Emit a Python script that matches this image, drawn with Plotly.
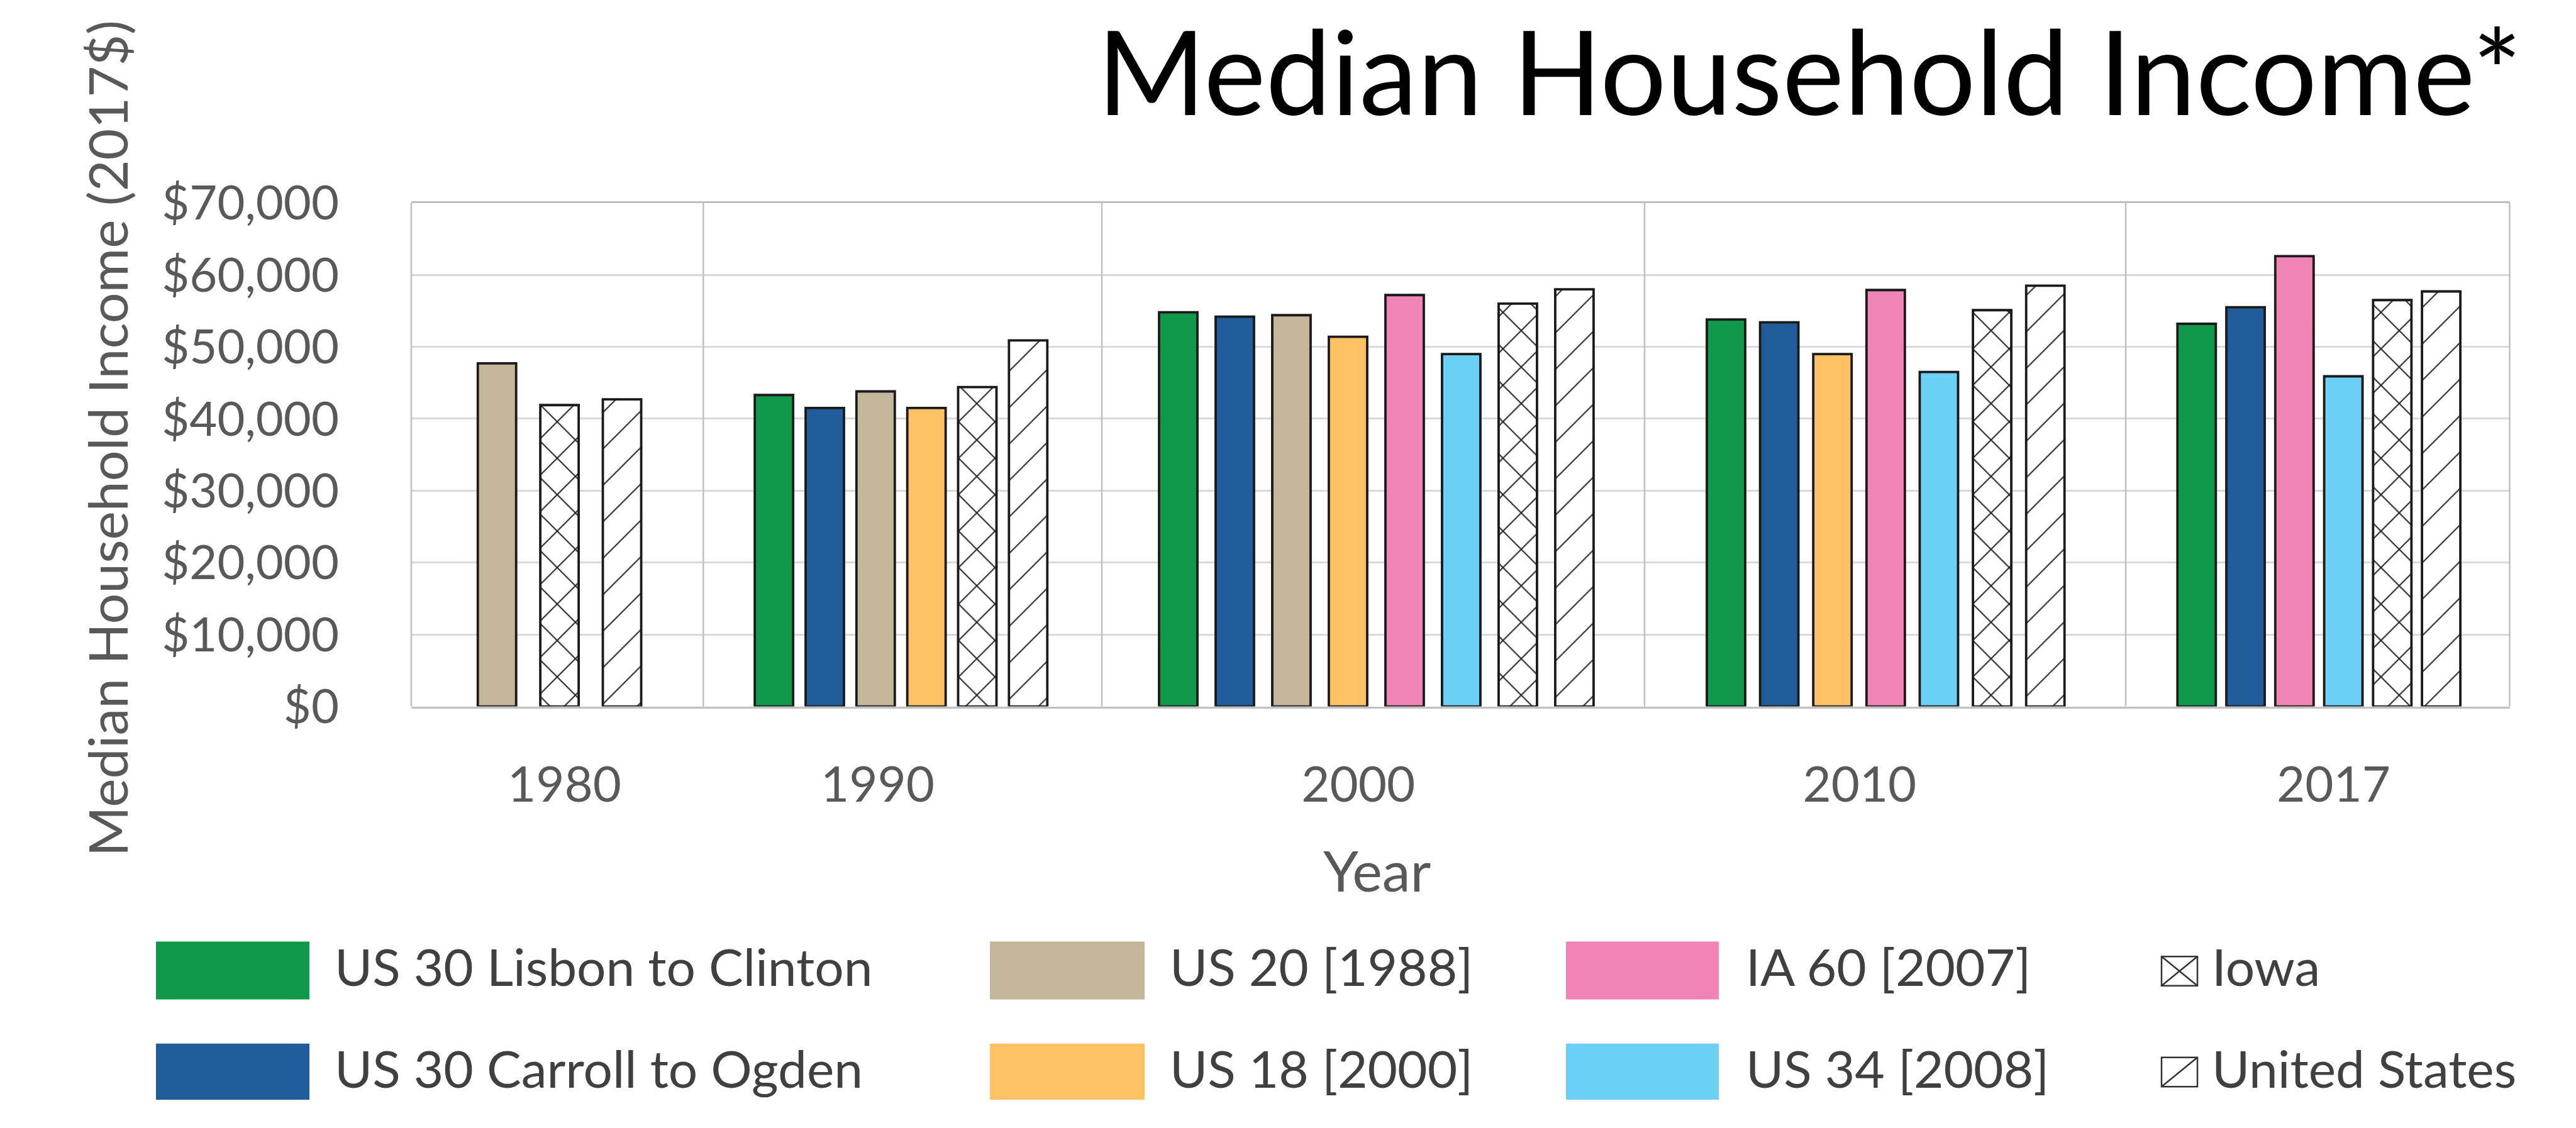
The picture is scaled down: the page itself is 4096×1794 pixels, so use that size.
import plotly.graph_objects as go

# ---- data -------------------------------------------------------------
YEARS = ["1980", "1990", "2000", "2010", "2017"]
SERIES = [
    "US 30 Lisbon to Clinton",
    "US 30 Carroll to Ogden",
    "US 20 [1988]",
    "US 18 [2000]",
    "IA 60 [2007]",
    "US 34 [2008]",
    "Iowa",
    "United States",
]
# median household income, 2017 dollars (None = no bar for that year)
us30_lisbon = [None, 43300, 54800, 53800, 53200]
us30_carroll = [None, 41500, 54200, 53400, 55500]
us20 = [47700, 43800, 54400, None, None]
us18 = [None, 41500, 51400, 49000, None]
ia60 = [None, None, 57200, 57900, 62600]
us34 = [None, None, 49000, 46500, 45900]
iowa = [41900, 44400, 56000, 55100, 56500]
united_states = [42700, 50900, 58000, 58500, 57700]
VALUES = [us30_lisbon, us30_carroll, us20, us18, ia60, us34, iowa, united_states]
Y_TICKS = [0, 10000, 20000, 30000, 40000, 50000, 60000, 70000]
Y_TICK_TEXT = [f"${v:,}" for v in Y_TICKS]

# ---- styling ----------------------------------------------------------
COLORS = ["#10994a", "#1f5c99", "#c4b69a", "#fec163", "#f283b6", "#6ccff6", "white", "white"]
PATTERNS = ["", "", "", "", "", "", "x", "/"]
SOLIDITY = {"x": 0.1, "/": 0.05}
FONT = "Lato"
GRAY_TXT = "#595959"
LEG_TXT = "#404040"
FRAME = "#bfbfbf"
GRID = "#d9d9d9"

W, H = 4096, 1794
PANEL_EDGES = [654.0, 1118.3, 1752.0, 2615.0, 3380.0, 3990.5]   # px, one panel per year
PANEL_RANGES = [(-1.37, 3.30), (-1.39, 6.45), (-1.35, 8.24), (-1.53, 7.51), (-1.45, 6.40)]
YEAR_TICK_POS = [1.08, 2.04, 3.18, 2.51, 2.80]
PLOT_TOP, PLOT_BOTTOM = 289.5, 1133.0
BAR_PX = 61

fig = go.Figure()
layout = {}

for k, year in enumerate(YEARS):
    xname = "x" if k == 0 else f"x{k + 1}"
    r0, r1 = PANEL_RANGES[k]
    unit_px = (PANEL_EDGES[k + 1] - PANEL_EDGES[k]) / (r1 - r0)
    present = [s for s, vals in zip(SERIES, VALUES) if vals[k] is not None]
    for s, vals, col, pat in zip(SERIES, VALUES, COLORS, PATTERNS):
        v = vals[k]
        if v is None:
            continue
        marker = dict(color=col, line=dict(color="#1a1a1a", width=3.8))
        if pat:
            marker["pattern"] = dict(shape=pat, fgcolor="#262626", bgcolor="white",
                                     fgopacity=1, size=41, solidity=SOLIDITY[pat],
                                     fillmode="replace")
        fig.add_trace(go.Bar(
            x=[s], y=[v], xaxis=xname, yaxis="y", name=s,
            width=BAR_PX / unit_px, marker=marker, showlegend=False,
            hovertemplate=f"{year} – {s}<br>$%{{y:,}}<extra></extra>",
        ))
    layout["xaxis" if k == 0 else f"xaxis{k + 1}"] = dict(
        domain=[PANEL_EDGES[k] / W, PANEL_EDGES[k + 1] / W],
        anchor="y", type="category",
        categoryorder="array", categoryarray=present,
        range=[r0, r1],
        tickmode="array", tickvals=[YEAR_TICK_POS[k]], ticktext=[year],
        ticks="", showgrid=False, zeroline=False,
        showline=True, mirror=True, linecolor=FRAME, linewidth=2.5,
        tickfont=dict(family=FONT, size=78, color=GRAY_TXT),
        ticklabelstandoff=55,
        fixedrange=True,
    )

layout["yaxis"] = dict(
    domain=[1 - PLOT_BOTTOM / H, 1 - PLOT_TOP / H],
    anchor="x", range=[0, 70000],
    tickmode="array", tickvals=Y_TICKS, ticktext=Y_TICK_TEXT,
    showgrid=True, gridcolor=GRID, gridwidth=3,
    zeroline=False, showline=False, ticks="",
    tickfont=dict(family=FONT, size=76, color=GRAY_TXT),
    ticklabelstandoff=114,
    fixedrange=True,
)

# panel separators and outer left/right edges
shapes = []
for xe in PANEL_EDGES:
    shapes.append(dict(type="line", xref="paper", yref="y domain",
                       x0=xe / W, x1=xe / W, y0=0, y1=1,
                       line=dict(color=FRAME, width=2.5)))

# ---- legend (drawn as swatches + labels) ------------------------------
annotations = []
SWATCH_X = [(248, 492), (1574, 1820), (2490, 2733)]
TEXT_X = [530, 1858, 2774]
ROW_Y = [(1527, 1624), (1698, 1794 - 2)]
ROW_TEXT_Y = [1567, 1738]
for i, (s, col) in enumerate(zip(SERIES[:6], COLORS[:6])):
    c, r = divmod(i, 2)
    x0, x1 = SWATCH_X[c]
    y0, y1 = ROW_Y[r]
    shapes.append(dict(type="rect", xref="paper", yref="paper",
                       x0=x0 / W, x1=x1 / W, y0=1 - y1 / H, y1=1 - y0 / H,
                       fillcolor=col, line=dict(width=0)))
    annotations.append(dict(text=s, xref="paper", yref="paper",
                            x=TEXT_X[c] / W, y=1 - ROW_TEXT_Y[r] / H,
                            xanchor="left", yanchor="middle", showarrow=False,
                            font=dict(family=FONT, size=82, color=LEG_TXT)))

ICON_X = (3437, 3494)
ICON_Y = [(1552, 1601), (1721, 1770)]
for r, s in enumerate(SERIES[6:]):
    x0, x1 = ICON_X[0] / W, ICON_X[1] / W
    y0, y1 = 1 - ICON_Y[r][1] / H, 1 - ICON_Y[r][0] / H
    line = dict(color="#333333", width=2.5)
    shapes.append(dict(type="rect", xref="paper", yref="paper",
                       x0=x0, x1=x1, y0=y0, y1=y1, fillcolor="white", line=line))
    shapes.append(dict(type="line", xref="paper", yref="paper",
                       x0=x0, x1=x1, y0=y0, y1=y1, line=line))
    if PATTERNS[6 + r] == "x":
        shapes.append(dict(type="line", xref="paper", yref="paper",
                           x0=x0, x1=x1, y0=y1, y1=y0, line=line))
    annotations.append(dict(text=s, xref="paper", yref="paper",
                            x=3515 / W, y=1 - ROW_TEXT_Y[r] / H,
                            xanchor="left", yanchor="middle", showarrow=False,
                            font=dict(family=FONT, size=82, color=LEG_TXT)))

# axis titles
annotations.append(dict(text="Year", xref="paper", yref="paper",
                        x=2190 / W, y=1 - 1406 / H, showarrow=False,
                        xanchor="center", yanchor="middle",
                        font=dict(family=FONT, size=90, color=GRAY_TXT)))
annotations.append(dict(text="Median Household Income (2017$)", xref="paper", yref="paper",
                        x=169 / W, y=1 - 684 / H, showarrow=False, textangle=-90,
                        xanchor="center", yanchor="middle",
                        font=dict(family=FONT, size=86, color=GRAY_TXT)))

fig.update_layout(
    **layout,
    width=W, height=H,
    margin=dict(l=0, r=0, t=0, b=0),
    paper_bgcolor="white", plot_bgcolor="white",
    barmode="overlay",
    showlegend=False,
    shapes=shapes,
    annotations=annotations,
    title=dict(text="Median Household Income*", xref="paper", yref="container",
               x=4010 / W, xanchor="right", y=1 - 118 / H, yanchor="middle",
               font=dict(family=FONT, size=186, color="black")),
)

fig.write_html("out.html")
